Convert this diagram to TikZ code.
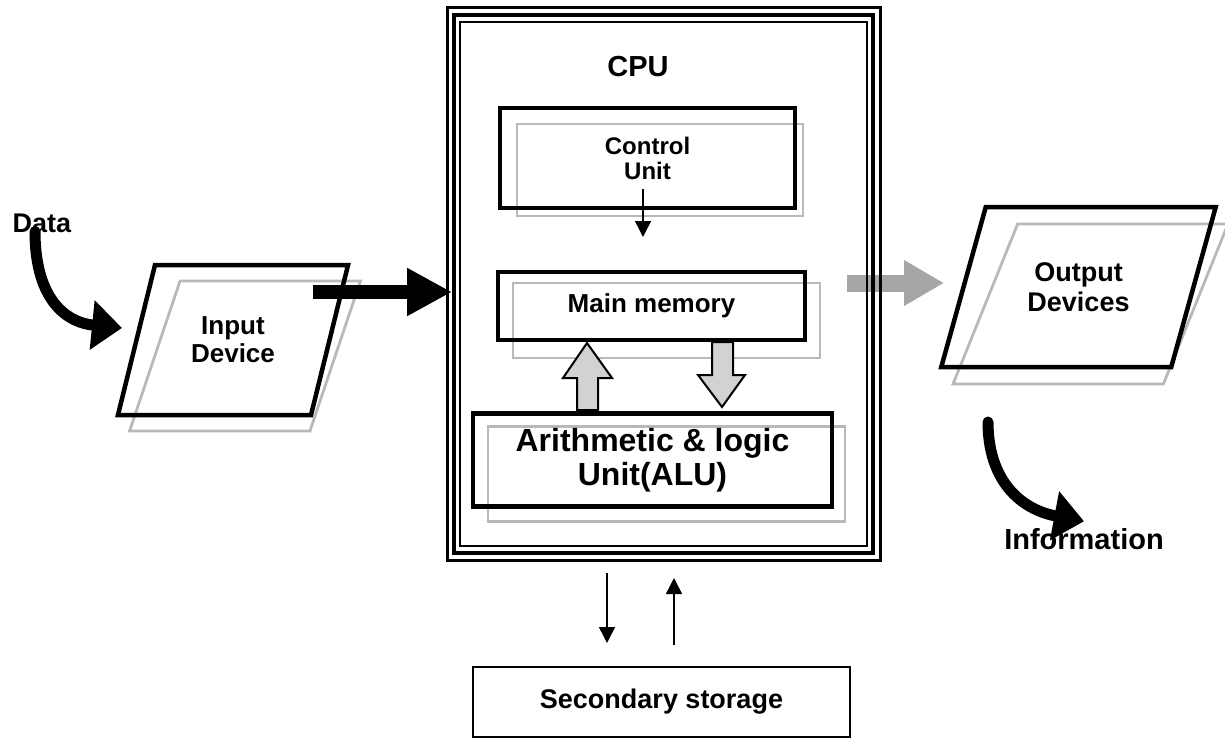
\documentclass[tikz,border=0pt]{standalone}
\usepackage{fontspec}
\setmainfont{Liberation Sans}
\usetikzlibrary{arrows.meta,shapes.geometric,backgrounds}

\begin{document}
\begin{tikzpicture}[x=0.5pt, y=-0.5pt, line join=miter,
		unit/.style={draw, line width=2.25pt, outer sep=0pt, align=center},
		ghost/.style={draw=gray!55, line width=1.4pt},
		device/.style={trapezium, trapezium stretches=true, outer sep=0pt, align=center, line width=2.25pt},
		smallarr/.style={line width=0.75pt, -{Triangle[length=8pt,width=8pt]}},
		fatarr/.style={line width=7pt, -{Triangle[length=22.5pt,width=22.5pt]}},
		curvarr/.style={line width=5.5pt, line cap=round, -{Triangle[length=15pt,width=24pt]}},
		blockarr/.style={draw, line width=1pt, fill=gray!35}]
		\useasboundingbox (0,0) rectangle (1225,738);
		% CPU with triple border
		\node[draw, line width=1.5pt, outer sep=0pt, minimum width=216.5pt, minimum height=276pt] (cpu) at (663.5,284) {};
		\draw[line width=2pt] ([shift={(7,7)}]cpu.north west) rectangle ([shift={(-7,-7)}]cpu.south east);
		\draw[line width=1pt] ([shift={(13,14)}]cpu.north west) rectangle ([shift={(-13,-14)}]cpu.south east);
		\node[font=\bfseries\fontsize{14.5}{17}\selectfont] (cpulbl) at (638,67) {CPU};
		% units inside the CPU
		\node[unit, minimum width=147.5pt, minimum height=50pt, font=\bfseries\fontsize{12}{12.5}\selectfont] (ctrl) at (647.5,158) {Control\\Unit};
		\node[unit, minimum width=153.5pt, minimum height=34pt, font=\bfseries\fontsize{13}{15}\selectfont] (mem) at (651.5,306) {Main memory};
		\node[unit, minimum width=179.5pt, minimum height=46.5pt, font=\bfseries\fontsize{16}{17}\selectfont] (alu) at (652.5,460) {Arithmetic \& logic\\Unit(ALU)};
		\node[draw, line width=0.75pt, outer sep=0pt, minimum width=188.5pt, minimum height=35pt, font=\bfseries\fontsize{13.5}{15}\selectfont] (sec) at (661.5,702) {Secondary storage};
		% devices
		\node[device, draw, trapezium left angle=68.8, trapezium right angle=111.2, minimum width=115.5pt, minimum height=75pt, font=\bfseries\fontsize{13}{14}\selectfont] (in) at (233,340) {Input\\Device};
		\node[device, draw, trapezium left angle=66.1, trapezium right angle=113.9, minimum width=137.5pt, minimum height=80pt, font=\bfseries\fontsize{13.5}{15}\selectfont] (out) at (1078.5,287) {Output\\Devices};
		\node[font=\bfseries\fontsize{13.5}{15}\selectfont] (data) at (42,223) {Data};
		\node[font=\bfseries\fontsize{14.5}{17}\selectfont] (info) at (1084,539) {Information};
		\coordinate (datatip) at (122,328);
		\coordinate (infostart) at (988,422);
		% shadows and grey arrow behind
		\begin{scope}[on background layer]
			\draw[ghost] ([shift={(17,16)}]ctrl.north west) rectangle ([shift={(8,8)}]ctrl.south east);
			\draw[ghost] ([shift={(15,11)}]mem.north west) rectangle ([shift={(15,18)}]mem.south east);
			\draw[ghost] ([shift={(15,13)}]alu.north west) rectangle ([shift={(13,15)}]alu.south east);
			\node[device, ghost, trapezium left angle=68.8, trapezium right angle=111.2, minimum width=115.5pt, minimum height=75pt] (inshadow) at ([shift={(12,16)}]in.center) {};
			\node[device, ghost, trapezium left angle=66.1, trapezium right angle=113.9, minimum width=137.5pt, minimum height=80pt] (outshadow) at ([shift={(12,17)}]out.center) {};
			\draw[line width=8.5pt, gray!70, -{Triangle[length=20pt,width=21.5pt]}, shorten <=-16.5pt, shorten >=9.75pt] (cpu.east |- 0,283) -- (out.west |- 0,283);
		\end{scope}
		% flow arrows
		\draw[fatarr, shorten <=40pt, shorten >=-2.5pt] (in.center |- 0,292) -- (cpu.west |- 0,292);
		\draw[curvarr, shorten <=-4pt] (data.south -| 35,0) .. controls +(0,55) and +(-60,-6) .. (datatip);
		\draw[curvarr] (infostart) .. controls +(0,58) and +(-64,-12) .. (info.north);
		\draw[smallarr, shorten <=-9.5pt, shorten >=17.5pt] (ctrl.south -| 643,0) -- (mem.north -| 643,0);
		\draw[blockarr] (577,410) -- (577,378) -- (563,378) -- (587,343) -- (612,378) -- (598,378) -- (598,410) -- cycle;
		\draw[blockarr] (712,342) -- (712,375) -- (698,375) -- (722,407) -- (745,375) -- (733,375) -- (733,342) -- cycle;
		\draw[smallarr, shorten <=6.5pt, shorten >=12pt] (cpu.south -| 607,0) -- (sec.north -| 607,0);
		\draw[smallarr, shorten <=11pt, shorten >=9pt] (sec.north -| 674,0) -- (cpu.south -| 674,0);
	\end{tikzpicture}
\end{document}
